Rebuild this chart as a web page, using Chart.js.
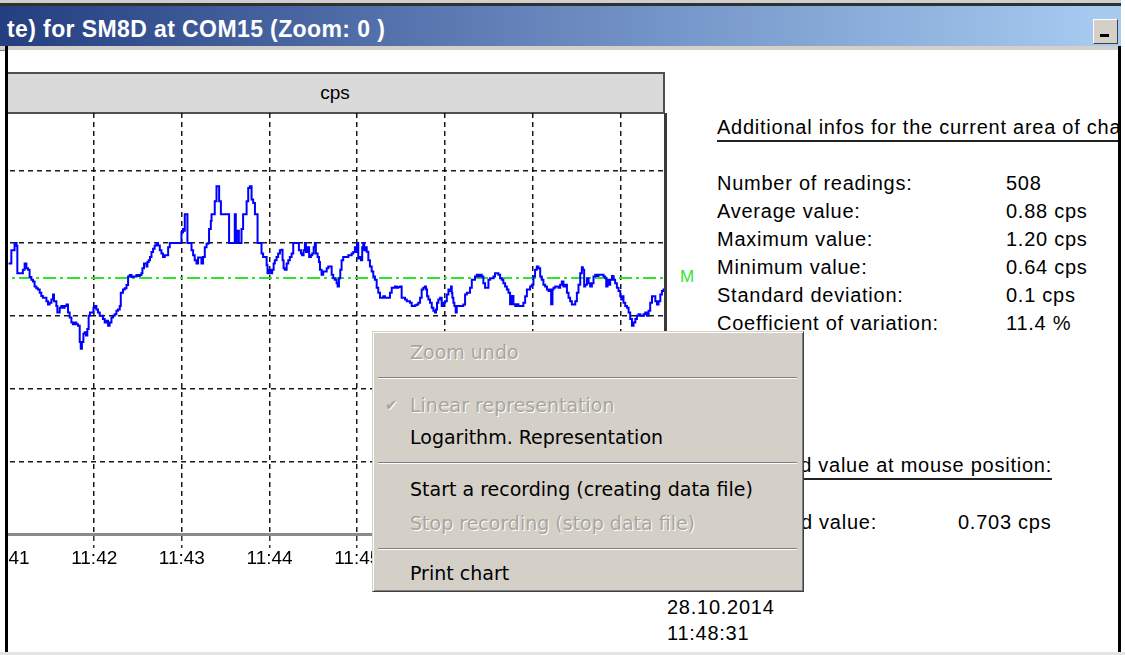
<!DOCTYPE html>
<html>
<head>
<meta charset="utf-8">
<script src="https://cdn.jsdelivr.net/npm/chart.js@4.4.1/dist/chart.umd.min.js"></script>
<style>
html, body { margin: 0; padding: 0; width: 1125px; height: 655px; overflow: hidden; background: #fff; }
body { position: relative; font-family: 'Liberation Sans', Arial, sans-serif; color: #000; }
.abs { position: absolute; }
#client { position: absolute; left: 0; top: 0; width: 1125px; height: 655px; clip-path: inset(50px 7px 3px 8px); background: #fff; }
#titlebar { left: 0; top: 6px; width: 1121px; height: 40px;
  background: linear-gradient(to right, rgb(36,62,128) 0px, rgb(104,136,190) 560px, rgb(166,202,240) 1100px); }
#titletext { left: 7px; top: 16px; height: 26px; line-height: 26px; color: #fff; font: bold 23px 'Liberation Sans', Arial, sans-serif; letter-spacing: 0.4px; white-space: nowrap; }
#minbtn { left: 1093px; top: 19px; width: 23px; height: 23px; background: #d4d0c8;
  border-top: 1px solid #fff; border-left: 1px solid #fff; border-right: 1px solid #404040; border-bottom: 1px solid #404040; }
#minbtn i { position: absolute; left: 6px; top: 14px; width: 9px; height: 3px; background: #000; }
.txt { font-size: 20px; letter-spacing: 0.75px; line-height: 24px; white-space: nowrap; }
#hdr { left: 7px; top: 72px; width: 656px; height: 38px; background: #dadada; border: 2px solid #505050; border-left: none;
  text-align: center; line-height: 38px; font-size: 19px; }
#menu { left: 372px; top: 331px; width: 430px; height: 259px; background: #d4d0c8;
  border: 1px solid; border-color: #d4d0c8 #404040 #404040 #d4d0c8;
  box-shadow: inset 1px 1px 0 #fff, inset -1px -1px 0 #808080;
  font-family: 'DejaVu Sans', sans-serif; font-size: 19px; }
.mi { position: absolute; left: 37px; height: 30px; line-height: 30px; white-space: nowrap; }
.off { color: #a8a59d; text-shadow: 1px 1px 0 #fff; }
.sep { position: absolute; left: 5px; right: 6px; height: 0; border-top: 1px solid #808080; border-bottom: 1px solid #fff; }
</style>
</head>
<body>
<div class="abs" style="left:0;top:0;width:1121px;height:3px;background:#cfcfcf"></div>
<div class="abs" style="left:0;top:3px;width:1121px;height:3px;background:#303030"></div>
<div id="titlebar" class="abs"></div>
<div id="titletext" class="abs">te) for SM8D at COM15 (Zoom: 0 )</div>
<div id="minbtn" class="abs"><i></i></div>
<div class="abs" style="left:0;top:46px;width:1121px;height:4px;background:#d4d0c8;border-bottom:1px solid #808080"></div>
<div class="abs" style="left:5px;top:46px;width:3px;height:606px;background:#000"></div>
<div class="abs" style="left:1118px;top:46px;width:3px;height:606px;background:#000"></div>
<div class="abs" style="left:0;top:652px;width:1125px;height:3px;background:#e4e4e4"></div>

<div id="client">
  <div id="hdr" class="abs">cps</div>
  <canvas id="chart" class="abs" width="791" height="467" style="left:-125px;top:113px;width:791px;height:467px"></canvas>
  <div class="abs" style="left:664px;top:113px;width:3px;height:421px;background:#3a3a3a"></div>
  <div id="mean" class="abs" style="left:680px;top:266px;font-size:17px;line-height:22px;color:#33e633">M</div>
  <div id="info"></div>
  <div class="abs txt" style="left:667px;top:595px">28.10.2014</div>
  <div class="abs txt" style="left:667px;top:621px">11:48:31</div>
  <div id="menu" class="abs"></div>
</div>

<script>
// time axis: seconds after 11:41:00
const baseClock = 11 * 3600 + 41 * 60;
const axisMin = -90;
const axisMax = 451.3;
const tickSecs = [-60, 0, 60, 120, 180, 240, 300, 360, 420];
const gridCps = [0, 0.25, 0.5, 0.75, 1.0, 1.25];
const cpsMax = 1.447;
const meanCps = 0.88;

// readings (seconds, cps)
const readSecs = [
  1.4, 3.3, 5.5, 6.9, 7.4, 9.0, 11.2, 12.4, 13.6, 14.7,
  15.8, 17.0, 18.1, 19.2, 20.4, 21.5, 22.7, 23.8, 24.9, 26.1,
  27.3, 28.4, 29.5, 30.7, 31.8, 32.5, 34.1, 34.8, 36.4, 37.5,
  38.6, 39.8, 41.0, 42.1, 43.2, 44.4, 45.5, 46.6, 47.8, 48.9,
  50.1, 50.8, 51.6, 52.6, 53.5, 54.4, 55.3, 56.2, 57.1, 58.5,
  59.5, 60.3, 61.5, 62.6, 63.8, 64.9, 66.0, 67.2, 68.4, 69.5,
  70.6, 71.8, 72.9, 74.0, 75.2, 76.3, 77.5, 78.2, 79.7, 80.9,
  82.1, 83.2, 84.3, 85.5, 86.6, 87.7, 88.9, 90.0, 91.2, 92.3,
  93.0, 94.1, 95.8, 96.4, 97.3, 98.2, 99.2, 100.3, 101.4, 102.6,
  103.7, 104.9, 106.0, 107.1, 108.3, 109.5, 110.6, 111.7, 117.2, 119.3,
  119.7, 120.8, 121.5, 122.0, 123.2, 123.8, 125.4, 126.6, 127.7, 128.8,
  130.0, 131.1, 132.3, 133.4, 134.5, 135.7, 136.9, 138.0, 138.6, 139.8,
  140.3, 141.4, 142.5, 143.7, 144.8, 145.5, 146.7, 151.7, 152.3, 155.8,
  156.2, 156.9, 157.6, 158.5, 159.0, 160.2, 160.8, 161.9, 163.6, 164.3,
  165.4, 166.5, 167.7, 168.8, 170.0, 171.1, 171.8, 173.4, 174.5, 175.6,
  176.8, 178.0, 178.6, 179.7, 180.9, 181.8, 182.8, 183.6, 184.8, 185.9,
  187.1, 188.2, 188.9, 189.6, 190.5, 191.7, 192.8, 193.9, 195.1, 196.2,
  199.2, 200.1, 201.5, 202.3, 203.3, 204.2, 204.9, 205.8, 207.1, 208.3,
  209.2, 210.2, 211.0, 211.7, 212.9, 213.8, 214.5, 215.6, 216.7, 217.9,
  219.1, 220.2, 221.3, 222.5, 223.6, 224.7, 225.9, 226.6, 227.5, 228.4,
  229.3, 230.4, 232.8, 233.9,
  235.0, 236.2, 237.3, 238.4, 239.1, 239.8, 240.7, 241.9, 242.6, 243.4,
  244.1, 244.8, 245.8, 246.5, 247.6, 248.7, 249.9, 251.0, 252.1, 253.3,
  254.4, 255.6, 256.7, 257.8, 259.0, 261.3, 262.4, 263.6, 264.7, 265.8,
  267.0, 268.1, 269.3, 270.4, 271.5, 272.7, 273.9, 275.0, 276.1, 277.3,
  278.4, 279.5, 280.7, 281.8, 283.0, 284.1, 285.2, 286.4, 287.1, 287.8,
  288.7, 289.8, 291.0, 292.1, 293.2, 293.9, 294.6, 295.5, 296.7, 297.8,
  298.9, 300.1, 301.3, 302.4, 303.5, 304.2, 304.7, 305.1, 305.8, 306.5,
  307.4, 308.1, 311.5, 312.6, 313.8, 315.0, 316.1, 317.2, 318.4, 319.5,
  320.6, 321.8, 322.9, 324.1, 325.2, 326.3, 327.5, 328.7, 329.8, 330.9,
  332.1, 333.2, 334.3, 335.5, 336.6, 337.8, 338.9, 340.0, 341.2, 342.4,
  343.5, 344.6, 345.8, 346.9, 348.1, 349.2, 350.3,
  352.6, 353.7, 354.9, 356.1, 357.2, 358.3, 359.5, 360.6, 361.7, 362.9,
  364.0, 365.2, 366.3, 367.4, 368.6, 369.8, 370.9, 372.0, 372.7, 373.6,
  374.3, 375.5, 376.6, 377.7, 378.9, 380.0, 381.1, 382.3, 383.5, 384.6,
  385.7, 386.9, 388.0, 389.2, 390.3, 391.4, 392.6, 393.7, 394.4, 395.3,
  396.0, 397.2, 398.3, 399.4, 400.6, 401.7, 402.9, 404.0, 405.1, 407.4,
  408.5, 409.7, 410.4, 411.3, 412.0, 413.1, 414.3, 415.4, 416.5, 417.7,
  418.8, 420.0, 420.7, 421.6, 422.2, 423.4, 424.6, 425.7, 426.8, 428.0,
  429.1, 430.3, 431.4, 432.5, 433.7, 434.8, 435.9, 437.1, 438.3, 439.4,
  440.5, 441.7, 442.8, 444.0, 445.1, 446.2, 447.4, 448.5, 449.6, 450.8
];
const readCps = [
  .930, .975, 1.00, .990, .896, .896, .908, .930, .913, .908,
  .883, .874, .868, .851, .845, .840, .829, .818, .812, .812,
  .800, .789, .795, .806, .823, .800, .784, .761, .778, .784,
  .778, .784, .789, .761, .744, .727, .721, .727, .721, .716,
  .660, .637, .660, .688, .693, .682, .705, .750, .761, .761,
  .778, .784, .772, .761, .750, .750, .739, .727, .733, .716,
  .727, .744, .750, .755, .767, .772, .784, .829, .840, .845,
  .856, .885, .890, .883, .885, .885, .890, .887, .890, .896,
  .913, .930, .919, .935, .941, .952, .969, .980, .992, 1.00,
  .992, .975, .964, .952, .958, .958, .986, 1.00, 1.00, 1.00,
  1.037, 1.048, 1.042, 1.099, 1.099, 1.00, 1.00, .975, .958, .941,
  .930, .950, .950, .930, .952, .986, .998, 1.00, 1.048, 1.076,
  1.099, 1.099, 1.144, 1.195, 1.195, 1.144, 1.099, 1.099, 1.00, 1.00,
  1.099, 1.00, 1.042, 1.042, 1.00, 1.00, 1.048, 1.099, 1.099, 1.144,
  1.189, 1.195, 1.150, 1.138, 1.099, 1.099, 1.00, 1.00, .964, .952,
  .952, .924, .896, .908, .896, .908, .930, .941, .952, .964,
  .975, .977, .941, .913, .908, .930, .941, .952, .964, 1.00,
  1.00, .975, .964, .958, .975, 1.00, .969, .986, .952, .958,
  .964, .986, 1.00, .964, .952, .935, .908, .891, .902, .902,
  .913, .919, .919, .891, .879, .874, .862, .851, .879, .908,
  .941, .952, .952, .958,
  .958, .964, .969, .986, .969, 1.00, .947, .952, .941, .986,
  1.00, .975, .986, .970, .941, .919, .902, .885, .874, .846,
  .829, .812, .812, .817, .812, .812, .829, .846, .846, .851,
  .846, .849, .851, .812, .812, .806, .800, .800, .795, .784,
  .784, .786, .789, .795, .812, .840, .846, .851, .840, .817,
  .806, .795, .778, .767, .761, .772, .795, .806, .812, .784,
  .795, .800, .823, .840, .835, .851, .829, .812, .795, .784,
  .761, .784, .784, .789, .823, .829, .829, .846, .874, .874,
  .885, .891, .885, .891, .885, .862, .846, .846, .874, .879,
  .879, .885, .896, .896, .891, .879, .874, .862, .851, .840,
  .829, .790, .818, .790, .784, .790, .784,
  .784, .795, .817, .840, .840, .851, .857, .885, .908, .919,
  .913, .885, .874, .857, .851, .840, .835, .840, .790, .840,
  .846, .851, .851, .846, .857, .868, .851, .857, .829, .812,
  .800, .789, .789, .800, .829, .857, .896, .917, .908, .851,
  .857, .879, .862, .851, .862, .885, .891, .887, .891, .891,
  .885, .879, .851, .874, .857, .874, .887, .874, .862, .846,
  .835, .817, .806, .817, .795, .784, .778, .761, .739, .716,
  .727, .739, .750, .755, .750, .750, .755, .761, .750, .767,
  .795, .817, .817, .800, .789, .800, .823, .835, .840, .842
];

// side panel
const infoTitle = 'Additional infos for the current area of chart:';
const infoLabels = ['Number of readings:', 'Average value:', 'Maximum value:', 'Minimum value:', 'Standard deviation:', 'Coefficient of variation:'];
const infoValues = ['508', '0.88 cps', '1.20 cps', '0.64 cps', '0.1 cps', '11.4 %'];
const mouseTitle = 'Measured value at mouse position:';
const mouseLabel = 'Measured value:';
const mouseValue = '0.703 cps';

// context menu
const menuItems = [
  { text: 'Zoom undo', top: 5, off: true },
  { sep: true, top: 45 },
  { text: 'Linear representation', top: 58, off: true, check: true },
  { text: 'Logarithm. Representation', top: 90 },
  { sep: true, top: 130 },
  { text: 'Start a recording (creating data file)', top: 142 },
  { text: 'Stop recording (stop data file)', top: 176, off: true },
  { sep: true, top: 216 },
  { text: 'Print chart', top: 226 }
];

function clock(sec) {
  const s = Math.round(baseClock + sec);
  const h = Math.floor(s / 3600);
  const m = Math.floor((s % 3600) / 60);
  return h + ':' + String(m).padStart(2, '0');
}

// side texts
(function buildInfo() {
  const box = document.getElementById('info');
  let html = '<div class="abs txt" style="left:717px;top:115px;width:460px;border-bottom:2px solid #222;padding-bottom:1px">' + infoTitle + '</div>';
  infoLabels.forEach((l, i) => {
    const top = 171 + i * 28;
    html += '<div class="abs txt" style="left:717px;top:' + top + 'px">' + l + '</div>';
    html += '<div class="abs txt" style="left:1006px;top:' + top + 'px">' + infoValues[i] + '</div>';
  });
  html += '<div class="abs txt" style="right:73px;top:453px;text-align:right"><span style="display:inline-block;border-bottom:2px solid #222;padding-bottom:1px">' + mouseTitle + '</span></div>';
  html += '<div class="abs txt" style="right:248px;top:510px;text-align:right">' + mouseLabel + '</div>';
  html += '<div class="abs txt" style="left:958px;top:510px">' + mouseValue + '</div>';
  box.innerHTML = html;
})();

(function buildMenu() {
  const menu = document.getElementById('menu');
  let html = '';
  menuItems.forEach(it => {
    if (it.sep) {
      html += '<div class="sep" style="top:' + it.top + 'px"></div>';
    } else {
      html += '<div class="mi' + (it.off ? ' off' : '') + '" style="top:' + it.top + 'px">' + it.text + '</div>';
      if (it.check) html += '<div class="mi off" style="left:12px;top:' + it.top + 'px;font-size:15px">&#10004;</div>';
    }
  });
  menu.innerHTML = html;
})();

const ctx = document.getElementById('chart').getContext('2d');
new Chart(ctx, {
  type: 'line',
  data: {
    datasets: [
      {
        data: readSecs.map((t, i) => ({ x: t, y: readCps[i] })),
        borderColor: '#0000ff',
        borderWidth: 2,
        pointRadius: 0,
        stepped: true,
        fill: false
      },
      {
        data: [{ x: axisMin, y: meanCps }, { x: axisMax, y: meanCps }],
        borderColor: '#2ee62e',
        borderWidth: 2,
        borderDash: [13, 4, 3, 4],
        pointRadius: 0,
        fill: false
      }
    ]
  },
  options: {
    responsive: false,
    animation: false,
    devicePixelRatio: 1,
    layout: { padding: 0 },
    plugins: { legend: { display: false }, tooltip: { enabled: false } },
    scales: {
      x: {
        type: 'linear',
        min: axisMin,
        max: axisMax,
        afterBuildTicks: s => { s.ticks = tickSecs.map(v => ({ value: v })); },
        afterFit: s => { s.height = 46; },
        grid: {
          color: 'rgba(0,0,0,0.9)',
          lineWidth: 1.5,
          drawTicks: true,
          tickLength: 14,
          tickColor: '#333',
          tickBorderDash: [5, 4]
        },
        border: { display: true, color: '#8a8a8a', width: 3, dash: [5, 4] },
        ticks: {
          autoSkip: false,
          maxRotation: 0,
          padding: -1,
          color: '#000',
          font: { family: 'Liberation Sans', size: 19 },
          callback: v => clock(v)
        }
      },
      y: {
        min: 0,
        max: cpsMax,
        afterBuildTicks: s => { s.ticks = gridCps.map(v => ({ value: v })); },
        afterFit: s => { s.width = 0; },
        grid: {
          color: c => (c.tick && c.tick.value === 0) ? 'rgba(0,0,0,0)' : 'rgba(0,0,0,0.9)',
          lineWidth: 1.5,
          drawTicks: false
        },
        border: { display: false, dash: [5, 4] },
        ticks: { display: false }
      }
    }
  }
});
</script>
</body>
</html>
